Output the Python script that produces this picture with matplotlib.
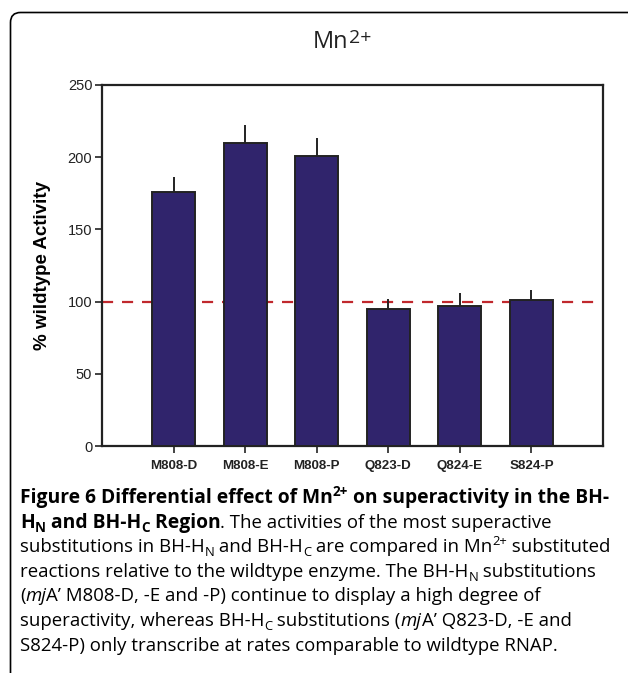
# Mn2+ superactivity bar chart (Figure 6)
import numpy as np
import matplotlib
matplotlib.use("Agg")
import matplotlib.pyplot as plt
from matplotlib.path import Path
from matplotlib.patches import PathPatch

# the data
mutants = ["M808-D", "M808-E", "M808-P", "Q823-D", "Q824-E", "S824-P"]
activity = [176, 210, 201, 95, 97, 101]
error = [10, 12, 12, 7, 9, 7]
wildtype = 100

W, H = 628, 673
fig = plt.figure(figsize=(W / 100, H / 100), dpi=100)
plt.rcParams['font.family'] = ['Liberation Sans', 'DejaVu Sans']
renderer = fig.canvas.get_renderer()

# axes placement in pixels
left, right, top, bottom = 102, 603, 85, 446
ax = fig.add_axes([left / W, 1 - bottom / H, (right - left) / W, (bottom - top) / H])

x = np.arange(len(mutants))
ax.bar(x, activity, width=0.6, color='#30246c', edgecolor='#222222', linewidth=1.4, zorder=3)
ax.errorbar(x, activity, yerr=[np.zeros(len(error)), error], fmt='none',
            ecolor='#222222', elinewidth=1.4, capsize=0, zorder=2)
ax.axhline(wildtype, color='#c0282d', linestyle=(0, (5, 4)), linewidth=1.6, zorder=1)

ax.set_xlim(-1, len(mutants))
ax.set_ylim(0, 250)
ax.set_yticks([0, 50, 100, 150, 200, 250])
ax.set_xticks(x)
ax.set_xticklabels(mutants, fontweight='bold', fontsize=9.6)
ax.tick_params(axis='y', labelsize=10.5, length=5, width=1.2, colors='#222222', pad=2)
ax.tick_params(axis='x', length=5, width=1.2, colors='#222222', pad=5)
for s in ax.spines.values():
    s.set_linewidth(1.6)
    s.set_color('#222222')
ax.set_ylabel('% wildtype Activity', fontweight='bold', fontsize=13.5, labelpad=12)

# title, "2+" slightly raised and smaller
t = fig.text(313 / W, 1 - 48 / H, 'Mn', ha='left', va='baseline',
             fontsize=17, family='Open Sans', color='#222222')
tx = 313 + t.get_window_extent(renderer).width + 1
fig.text(tx / W, 1 - 43 / H, '2+', ha='left', va='baseline',
         fontsize=14, family='Open Sans', color='#222222')

# frame around figure
r = 10
x0, y0 = 10.5, 12.5
verts = [(x0, H), (x0, y0 + r), (x0, y0), (x0 + r, y0), (W, y0)]
codes = [Path.MOVETO, Path.LINETO, Path.CURVE3, Path.CURVE3, Path.LINETO]
verts = [(vx / W, 1 - vy / H) for vx, vy in verts]
fig.patches.append(PathPatch(Path(verts, codes), transform=fig.transFigure,
                             fill=False, edgecolor='black', linewidth=1.2))

# caption drawn as runs of text
fs = 13.4
fsb = 13.9


def draw_runs(xp, yp, runs):
    for s, bold, italic, pos in runs:
        size = fsb if bold else fs
        if pos != '':
            size = size * 0.7
        dy = 0
        if pos == 'sub':
            dy = 4
        elif pos == 'sup':
            dy = -7
        t = fig.text(xp / W, 1 - (yp + dy) / H, s, fontsize=size, family='Open Sans',
                     fontweight='bold' if bold else 'normal',
                     fontstyle='italic' if italic else 'normal',
                     ha='left', va='baseline', color='black')
        bb = t.get_window_extent(renderer)
        xp += bb.width


B, N = True, False
lines = [
    [("Figure 6 Differential effect of Mn", B, N, ''), ("2+", B, N, 'sup'),
     (" on superactivity in the BH-", B, N, '')],
    [("H", B, N, ''), ("N", B, N, 'sub'), (" and BH-H", B, N, ''), ("C", B, N, 'sub'),
     (" Region", B, N, ''), (". The activities of the most superactive", N, N, '')],
    [("substitutions in BH-H", N, N, ''), ("N", N, N, 'sub'), (" and BH-H", N, N, ''),
     ("C", N, N, 'sub'), (" are compared in Mn", N, N, ''), ("2+", N, N, 'sup'),
     (" substituted", N, N, '')],
    [("reactions relative to the wildtype enzyme. The BH-H", N, N, ''), ("N", N, N, 'sub'),
     (" substitutions", N, N, '')],
    [("(", N, N, ''), ("mj", N, True, ''), ("A\u2019 M808-D, -E and -P) continue to display a high degree of", N, N, '')],
    [("superactivity, whereas BH-H", N, N, ''), ("C", N, N, 'sub'), (" substitutions (", N, N, ''),
     ("mj", N, True, ''), ("A\u2019 Q823-D, -E and", N, N, '')],
    [("S824-P) only transcribe at rates comparable to wildtype RNAP.", N, N, '')],
]
for i, ln in enumerate(lines):
    draw_runs(20, 503 + i * 24.6, ln)

fig.savefig('out.png', dpi=100)
